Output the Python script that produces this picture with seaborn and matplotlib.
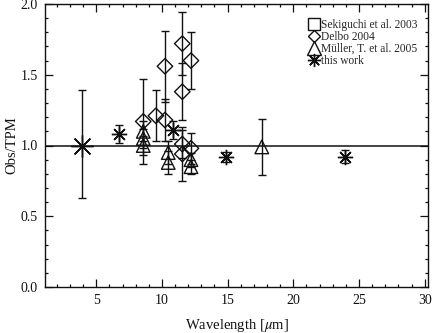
import matplotlib
matplotlib.use("Agg")
import matplotlib.pyplot as plt
import seaborn as sns
import numpy as np
import pandas as pd
from matplotlib.lines import Line2D
from matplotlib.ticker import MultipleLocator

# ---------------- data ----------------
# Sekiguchi et al. 2003 (no points visible in the plot)
sek_wav = []
sek_ratio = []
sek_err = []

# Delbo 2004
delbo_wav = [8.58, 9.54, 10.23, 10.23, 11.55, 11.55, 12.21, 11.55, 11.55, 12.21]
delbo_ratio = [1.17, 1.21, 1.56, 1.18, 1.72, 1.38, 1.60, 1.01, 0.94, 0.98]
delbo_err = [0.30, 0.18, 0.25, 0.15, 0.22, 0.20, 0.20, 0.10, 0.19, 0.11]

# Mueller et al. 2005
mul_wav = [8.58, 8.58, 8.58, 10.48, 10.48, 12.21, 12.21, 17.6]
mul_ratio = [1.10, 1.05, 1.00, 0.95, 0.88, 0.90, 0.85, 0.99]
mul_err = [0.07, 0.07, 0.07, 0.08, 0.08, 0.05, 0.05, 0.20]

# this work
tw_wav = [3.9, 6.7, 10.86, 14.87, 23.94]
tw_ratio = [1.00, 1.08, 1.11, 0.92, 0.92]
tw_err_lo = [0.37, 0.065, 0.065, 0.035, 0.045]
tw_err_hi = [0.39, 0.065, 0.065, 0.035, 0.045]

labels = ["Sekiguchi et al. 2003", "Delbo 2004", "M\u00fcller, T. et al. 2005", "this work"]

# ---------------- style ----------------
sns.set_theme(style="ticks")
plt.rcParams["font.family"] = ["Liberation Serif", "DejaVu Serif"]
plt.rcParams["mathtext.fontset"] = "stix"

fig = plt.figure(figsize=(4.36, 3.33), dpi=100)
ax = fig.add_axes([45 / 436, 1 - 287 / 333, (428 - 45) / 436, (287 - 4) / 333])

K = "#111111"
ast = (8, 2, 0)

ax.axhline(1.0, color=K, lw=1.1, zorder=1)

ekw = dict(fmt="none", ecolor=K, elinewidth=1.0, capsize=3.0, capthick=1.0, zorder=2)
ax.errorbar(delbo_wav, delbo_ratio, yerr=delbo_err, **ekw)
ax.errorbar(mul_wav, mul_ratio, yerr=mul_err, **ekw)
ax.errorbar(tw_wav, tw_ratio, yerr=[tw_err_lo, tw_err_hi], **ekw)

d_df = pd.DataFrame({"x": delbo_wav, "y": delbo_ratio})
m_df = pd.DataFrame({"x": mul_wav, "y": mul_ratio})
t_df = pd.DataFrame({"x": tw_wav, "y": tw_ratio})

sns.scatterplot(data=d_df, x="x", y="y", marker="D", s=62, facecolor="none",
                edgecolor=K, linewidth=1.0, ax=ax, zorder=3)
sns.scatterplot(data=m_df, x="x", y="y", marker="^", s=95, facecolor="none",
                edgecolor=K, linewidth=1.0, ax=ax, zorder=3)
ax.plot(tw_wav[:1], tw_ratio[:1], linestyle="none", marker=ast, ms=16, mew=1.0, color=K, zorder=3)
ax.plot(tw_wav[1:], tw_ratio[1:], linestyle="none", marker=ast, ms=11, mew=1.0, color=K, zorder=3)
ax.plot(sek_wav, sek_ratio, linestyle="none", marker="s", ms=9, mfc="none", mec=K)

ax.set_xlim(1.1, 30.25)
ax.set_ylim(0.0, 2.0)
ax.xaxis.set_major_locator(MultipleLocator(5))
ax.xaxis.set_minor_locator(MultipleLocator(1))
ax.yaxis.set_major_locator(MultipleLocator(0.5))
ax.yaxis.set_minor_locator(MultipleLocator(0.1))
ax.set_xticks([5, 10, 15, 20, 25, 30])
ax.set_yticks([0.0, 0.5, 1.0, 1.5, 2.0])
ax.set_yticklabels(["0.0", "0.5", "1.0", "1.5", "2.0"])
ax.tick_params(which="both", direction="in", top=True, right=True, colors=K,
               labelsize=10, width=0.9, pad=5)
ax.tick_params(which="major", length=5.5)
ax.tick_params(which="minor", length=2.5)
for s in ax.spines.values():
    s.set_linewidth(1.0)
    s.set_color(K)

ax.set_xlabel(r"Wavelength [$\mu$m]", fontsize=10.5, color=K, labelpad=7)
ax.set_ylabel("Obs/TPM", fontsize=10.5, color=K, labelpad=2)

handles = [
    Line2D([], [], linestyle="none", marker="s", ms=8.5, mfc="none", mec=K, mew=1.0),
    Line2D([], [], linestyle="none", marker="D", ms=6.5, mfc="none", mec=K, mew=1.0),
    Line2D([], [], linestyle="none", marker="^", ms=9.5, mfc="none", mec=K, mew=1.0),
    Line2D([], [], linestyle="none", marker=ast, ms=9.5, color=K, mew=1.0),
]
ax.legend(handles, labels, loc="upper left", bbox_to_anchor=(0.69, 0.948),
          frameon=False, fontsize=8.3, handlelength=0.8, handletextpad=0.2,
          labelspacing=0.0, borderaxespad=0, borderpad=0)

fig.savefig("out.png", dpi=100)
